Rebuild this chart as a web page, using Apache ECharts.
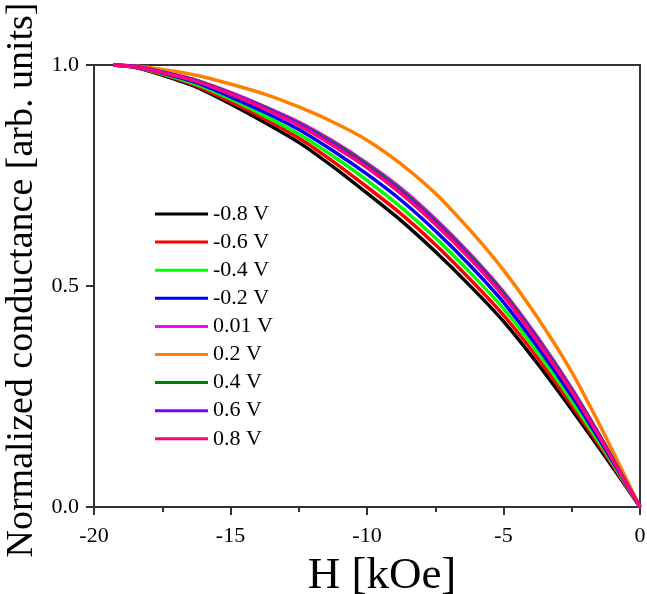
<!DOCTYPE html>
<html>
<head>
<meta charset="utf-8">
<script src="https://cdn.jsdelivr.net/npm/echarts@6/dist/echarts.min.js"></script>
<style>html,body{margin:0;padding:0;background:#fff}#c{width:647px;height:594px}</style>
</head>
<body>
<div id="c"></div>
<script>
var fieldH = [-19.3, -18.5, -17.5, -16.25, -15, -13.75, -12.5, -11.25, -10, -8.75, -7.5, -6.25, -5, -3.75, -2.5, -1.25, 0];
var seriesNames = ['-0.8 V', '-0.6 V', '-0.4 V', '-0.2 V', '0.01 V', '0.2 V', '0.4 V', '0.6 V', '0.8 V'];
var vM08  = [1, 0.995, 0.977, 0.950, 0.912, 0.870, 0.825, 0.770, 0.710, 0.648, 0.578, 0.502, 0.420, 0.324, 0.220, 0.112, 0];
var vM06  = [1, 0.995, 0.979, 0.953, 0.917, 0.878, 0.835, 0.782, 0.724, 0.663, 0.594, 0.517, 0.434, 0.337, 0.230, 0.118, 0];
var vM04  = [1, 0.996, 0.980, 0.956, 0.923, 0.885, 0.844, 0.794, 0.739, 0.678, 0.609, 0.532, 0.449, 0.350, 0.240, 0.123, 0];
var vM02  = [1, 0.996, 0.982, 0.960, 0.928, 0.893, 0.854, 0.806, 0.753, 0.694, 0.625, 0.548, 0.463, 0.362, 0.251, 0.129, 0];
var vP001 = [1, 0.997, 0.984, 0.965, 0.938, 0.906, 0.871, 0.828, 0.778, 0.721, 0.652, 0.574, 0.487, 0.384, 0.268, 0.138, 0];
var vP02  = [1, 0.998, 0.990, 0.977, 0.957, 0.934, 0.905, 0.871, 0.830, 0.776, 0.710, 0.628, 0.536, 0.428, 0.305, 0.158, 0];
var vP04  = [1, 0.997, 0.984, 0.965, 0.936, 0.905, 0.868, 0.825, 0.775, 0.717, 0.648, 0.571, 0.484, 0.381, 0.266, 0.137, 0];
var vP06  = [1, 0.997, 0.984, 0.964, 0.935, 0.903, 0.866, 0.822, 0.771, 0.713, 0.644, 0.567, 0.480, 0.378, 0.263, 0.135, 0];
var vP08  = [1, 0.996, 0.983, 0.963, 0.934, 0.901, 0.863, 0.818, 0.768, 0.709, 0.640, 0.563, 0.477, 0.374, 0.261, 0.134, 0];
var xTicks = [-20, -15, -10, -5, 0];
var yTicks = [0.0, 0.5, 1.0];

var allVals = [vM08, vM06, vM04, vM02, vP001, vP02, vP04, vP06, vP08];
var colors = ['#000000', '#ff0000', '#00ff00', '#0000ff', '#ff00ff', '#ff8000', '#008000', '#8000ff', '#ff0080'];
var font = 'Liberation Serif, Times New Roman, serif';

var series = allVals.map(function (vals, i) {
  return {
    name: seriesNames[i],
    type: 'line',
    smooth: 0.2,
    showSymbol: false,
    symbol: 'none',
    data: fieldH.map(function (h, j) { return [h, vals[j]]; }),
    lineStyle: { color: colors[i], width: 3.5 },
    itemStyle: { color: colors[i] },
    z: 2 + i
  };
});

var chart = echarts.init(document.getElementById('c'), null, { renderer: 'canvas' });
chart.setOption({
  animation: false,
  backgroundColor: '#fff',
  grid: { left: 94, right: 7, top: 65, bottom: 87, containLabel: false, outerBoundsMode: 'none',
    show: true, borderColor: '#333', borderWidth: 2, backgroundColor: 'transparent' },
  legend: {
    orient: 'vertical',
    left: 150,
    top: 198,
    icon: 'rect',
    itemWidth: 53,
    itemHeight: 3,
    itemGap: 6.1,
    data: seriesNames,
    textStyle: { fontFamily: font, fontSize: 22, color: '#000', lineHeight: 22, padding: [0, 0, 0, 0] }
  },
  xAxis: {
    type: 'value',
    min: -20, max: 0, interval: 5,
    name: 'H [kOe]',
    nameLocation: 'middle',
    nameGap: 47,
    nameTextStyle: { fontFamily: font, fontSize: 45, color: '#000', padding: [0, 0, 0, 30] },
    axisLine: { show: true, onZero: false, lineStyle: { color: '#333', width: 2 } },
    axisTick: { show: true, inside: false, length: 8, lineStyle: { color: '#333', width: 2 } },
    minorTick: { show: true, splitNumber: 2, length: 5, lineStyle: { color: '#333', width: 2 } },
    splitLine: { show: false },
    axisLabel: { fontFamily: font, fontSize: 22, color: '#000', margin: 18,
      formatter: function (v) { return xTicks.indexOf(v) >= 0 ? String(v) : ''; } }
  },
  yAxis: {
    type: 'value',
    min: 0, max: 1, interval: 0.5,
    name: 'Normalized conductance [arb. units]',
    nameLocation: 'middle',
    nameGap: 47,
    nameTextStyle: { fontFamily: font, fontSize: 38, color: '#000', padding: [0, 0, 0, 12] },
    axisLine: { show: true, onZero: false, lineStyle: { color: '#333', width: 2 } },
    axisTick: { show: true, inside: false, length: 8, lineStyle: { color: '#333', width: 2 } },
    minorTick: { show: false },
    splitLine: { show: false },
    axisLabel: { fontFamily: font, fontSize: 22, color: '#000', margin: 15,
      formatter: function (v) { return yTicks.indexOf(v) >= 0 ? v.toFixed(1) : ''; } }
  },
  series: series
});
</script>
</body>
</html>
